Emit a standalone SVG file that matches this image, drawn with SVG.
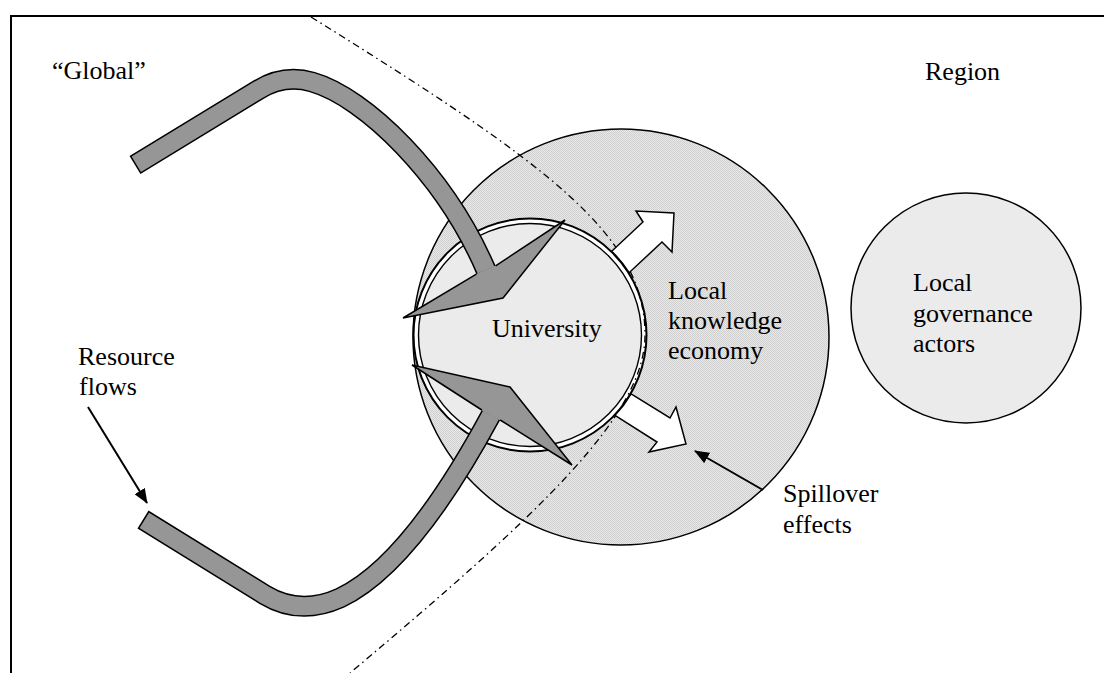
<svg xmlns="http://www.w3.org/2000/svg" width="1104" height="673" viewBox="0 0 1104 673">
<defs>
<pattern id="stip" width="2" height="2" patternUnits="userSpaceOnUse">
<rect width="2" height="2" fill="#e8e8e8"/>
<rect width="1" height="1" fill="#d0d0d0"/>
<rect x="1" y="1" width="1" height="1" fill="#d0d0d0"/>
</pattern>
<marker id="ah" viewBox="0 0 15 12" refX="14" refY="6" markerWidth="15" markerHeight="12" markerUnits="userSpaceOnUse" orient="auto"><path d="M0,0 L15,6 L0,12 Z" fill="#000"/></marker>
</defs>
<style>
text{font-family:'Liberation Serif','Times New Roman',serif;font-size:26px;fill:#000}
.pipeO{fill:none;stroke:#000;stroke-width:21;stroke-linejoin:round}
.pipeI{fill:none;stroke:#969696;stroke-width:18;stroke-linejoin:round}
.head{fill:#969696;stroke:#000;stroke-width:1.5;stroke-linejoin:miter}
.white{fill:#fff;stroke:#000;stroke-width:1.5;stroke-linejoin:miter}
.ptr{stroke:#000;stroke-width:2;fill:none;marker-end:url(#ah)}
.bound{fill:none;stroke:#000;stroke-width:1.3;stroke-dasharray:7 4 1.5 4}
.frame{fill:none;stroke:#000;stroke-width:2}
</style>
<rect width="1104" height="673" fill="#fff"/>
<path class="frame" d="M11,673 L11,16 L1104,16"/>

<g id="knowledge-economy">
<circle cx="621" cy="337" r="208" fill="url(#stip)" stroke="#000" stroke-width="1.5"/>
<text x="668" y="299">Local</text>
<text x="668" y="329">knowledge</text>
<text x="668" y="359">economy</text>
</g>

<g id="governance">
<circle cx="966" cy="308" r="115" fill="#ebebeb" stroke="#000" stroke-width="1.5"/>
<text x="913" y="291">Local</text>
<text x="913" y="321.5">governance</text>
<text x="913" y="352">actors</text>
</g>

<g id="university">
<circle cx="530" cy="335" r="116.5" fill="#fff" stroke="#000" stroke-width="2"/>
<circle cx="530" cy="335" r="111.5" fill="#ebebeb" stroke="#000" stroke-width="1.4"/>
<text x="492" y="337">University</text>
</g>

<g id="boundary">
<path class="bound" d="M311,17 C549,165 645,235 645,335 C645,415 541.5,512 350,673"/>
</g>

<g id="connectors">
<path class="white" d="M611.7,251.2 L643,222 L636,211 L674,213 L672,252 L662,242 L629.1,272.7 A117,117 0 0 0 611.7,251.2 Z"/>
<path class="white" d="M631.1,393.8 L670,418 L676,407 L686,444 L649,452 L657,442 L615,415.3 A117,117 0 0 0 631.1,393.8 Z"/>

<path class="pipeO" d="M135,165 L258,90 Q284,74 312,82 C365,97 445,175 486,270"/>
<path class="pipeI" d="M136.3,164.2 L258,90 Q284,74 312,82 C365,97 445,175 486,270"/>
<path class="head" d="M476.4,274.2 L403,318 L503,298 L565,220 L495.6,265.8"/>

<path class="pipeO" d="M143,519.5 L265,595 Q300,616 340,598 Q410,565 491,415"/>
<path class="pipeI" d="M144.3,520.3 L265,595 Q300,616 340,598 Q410,565 491,415"/>
<path class="head" d="M481.8,410 L412,365 L510,387 L572,465 L500.2,420"/>

<line class="ptr" x1="88" y1="407" x2="147" y2="503"/>
<line class="ptr" x1="763" y1="490" x2="695" y2="451"/>
</g>

<g id="global-label"><text x="52" y="79">“Global”</text></g>
<g id="region-label"><text x="925" y="80">Region</text></g>
<g id="resource-label"><text x="78" y="365">Resource</text><text x="79" y="395">flows</text></g>
<g id="spillover-label"><text x="783" y="502">Spillover</text><text x="783" y="533">effects</text></g>
</svg>
